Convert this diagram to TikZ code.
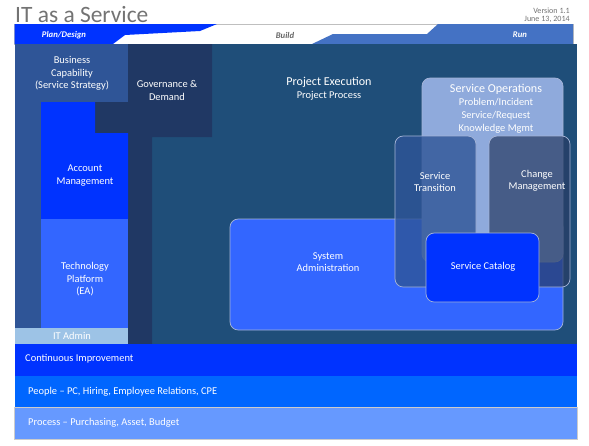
\documentclass[tikz,border=0pt]{standalone}
\usepackage{fontspec}
\setmainfont{Carlito}
\usetikzlibrary{positioning}

\definecolor{planblue}{RGB}{0,51,255}
\definecolor{runblue}{RGB}{68,114,196}
\definecolor{bizblue}{RGB}{47,85,151}
\definecolor{govnavy}{RGB}{32,56,100}
\definecolor{execteal}{RGB}{31,78,121}
\definecolor{techblue}{RGB}{51,102,255}
\definecolor{adminblue}{RGB}{157,195,230}
\definecolor{peopleblue}{RGB}{0,102,255}
\definecolor{procblue}{RGB}{102,153,255}
\definecolor{opsblue}{RGB}{143,170,220}
\definecolor{chgslate}{RGB}{40,60,100}
\definecolor{edgegray}{RGB}{165,180,215}
\definecolor{titlegray}{RGB}{115,115,115}

\begin{document}
\begin{tikzpicture}[
  x=0.03cm, y=-0.03cm,
  txt/.style={text=white, align=center, inner sep=0pt,
    font=\fontsize{8.9}{10.7}\selectfont},
  big/.style={text=white, align=center, inner sep=0pt,
    font=\fontsize{10.3}{12}\selectfont},
  head/.style={inner sep=0pt, font=\fontsize{7.4}{9}\selectfont\bfseries\itshape},
  band/.style={text=white, anchor=west, inner sep=0pt,
    font=\fontsize{8.9}{10.7}\selectfont},
  note/.style={text=titlegray, anchor=base east, inner sep=0pt,
    font=\fontsize{6.9}{8}\selectfont},
  panel/.style={draw=edgegray, line width=0.6pt, rounded corners=7pt}
]
\useasboundingbox (0,0) rectangle (589,445);
% Title and version
\node[anchor=base west, inner sep=0pt, text=titlegray,
      font=\fontsize{20}{22}\selectfont] (title) at (15,22.5) {IT as a Service};
\node[note] (version) at (570,13.5) {Version 1.1};
\node[note] (date)    at (570,21.5) {June 13, 2014};
% Phase header
\filldraw[fill=white, draw=black!25, line width=0.4pt] (14.5,24) rectangle (573,44);
\fill[planblue] (14.5,24) -- (217,24) -- (200,31) -- (125,35) -- (113,44)
  -- (14.5,44) -- cycle;
\fill[runblue] (438,24) -- (573,24) -- (573,44) -- (312,44) -- (333,34)
  -- (427,34) -- cycle;
\node[head, text=white]   (plan)  at (64,35)  {Plan/Design};
\node[head, text=black!60] (build) at (285,35) {Build};
\node[head, text=white]   (run)   at (520,35) {Run};
% Main areas
\fill[execteal] (14.5,44) rectangle (577,344);
\fill[bizblue] (14.5,44) rectangle (128,102);
\fill[bizblue] (14.5,102) rectangle (41,328);
\fill[govnavy] (95,102) -- (128,102) -- (128,44) -- (212,44) -- (212,137)
  -- (152,137) -- (152,344) -- (128,344) -- (128,133) -- (95,133) -- cycle;
\fill[planblue] (41,102) -- (95,102) -- (95,133) -- (128,133) -- (128,219)
  -- (41,219) -- cycle;
\fill[techblue] (41,219) rectangle (128,328);
\fill[adminblue] (14.5,328) rectangle (128,344);
\node[txt] (biz)  at (72,73.5) {Business\\Capability\\(Service Strategy)};
\node[txt] (gov)  at (167,90.5) {Governance \&\\Demand};
\node[txt] (acct) at (85,175.5) {Account\\Management};
\node[txt] (tech) at (85,279.5) {Technology\\Platform\\(EA)};
\node[txt] (admin) at (72,336) {IT Admin};
% Project execution
\node[big] (exec) at (329,82) {Project Execution};
\node[txt, below=3pt of exec] (process) {Project Process};
% Service panels
\filldraw[panel, fill=techblue] (230,219) rectangle (563,330);
\filldraw[panel, fill=opsblue] (422,78) rectangle (563,262);
\filldraw[panel, fill=bizblue, fill opacity=0.8] (395,136) rectangle (476,287);
\filldraw[panel, fill=chgslate, fill opacity=0.7] (489,136) rectangle (570,287);
\filldraw[panel, fill=planblue] (426,233) rectangle (539,302);
\node[txt] (sysadm) at (328,262) {System\\Administration};
\node[big] (ops) at (496,89) {Service Operations};
\node[txt, font=\fontsize{8.9}{11.1}\selectfont] (opslist) at (496,115.5)
  {Problem/Incident\\Service/Request\\Knowledge Mgmt};
\node[txt] (trans) at (435,182) {Service\\Transition};
\node[txt] (change) at (537,181) {Change\\Management};
\node[txt] (catalog) at (483,267) {Service Catalog};
% Foundation bands
\fill[planblue] (14.5,344) rectangle (577,376);
\fill[peopleblue] (14.5,376) rectangle (577,407);
\filldraw[fill=procblue, draw=black!20, line width=0.4pt] (14.5,407) rectangle (577,439);
\node[band] (ci)     at (25,359) {Continuous Improvement};
\node[band] (people) at (28,391.5) {People -- PC, Hiring, Employee Relations, CPE};
\node[band] (proc)   at (28,423) {Process -- Purchasing, Asset, Budget};
\end{tikzpicture}
\end{document}
